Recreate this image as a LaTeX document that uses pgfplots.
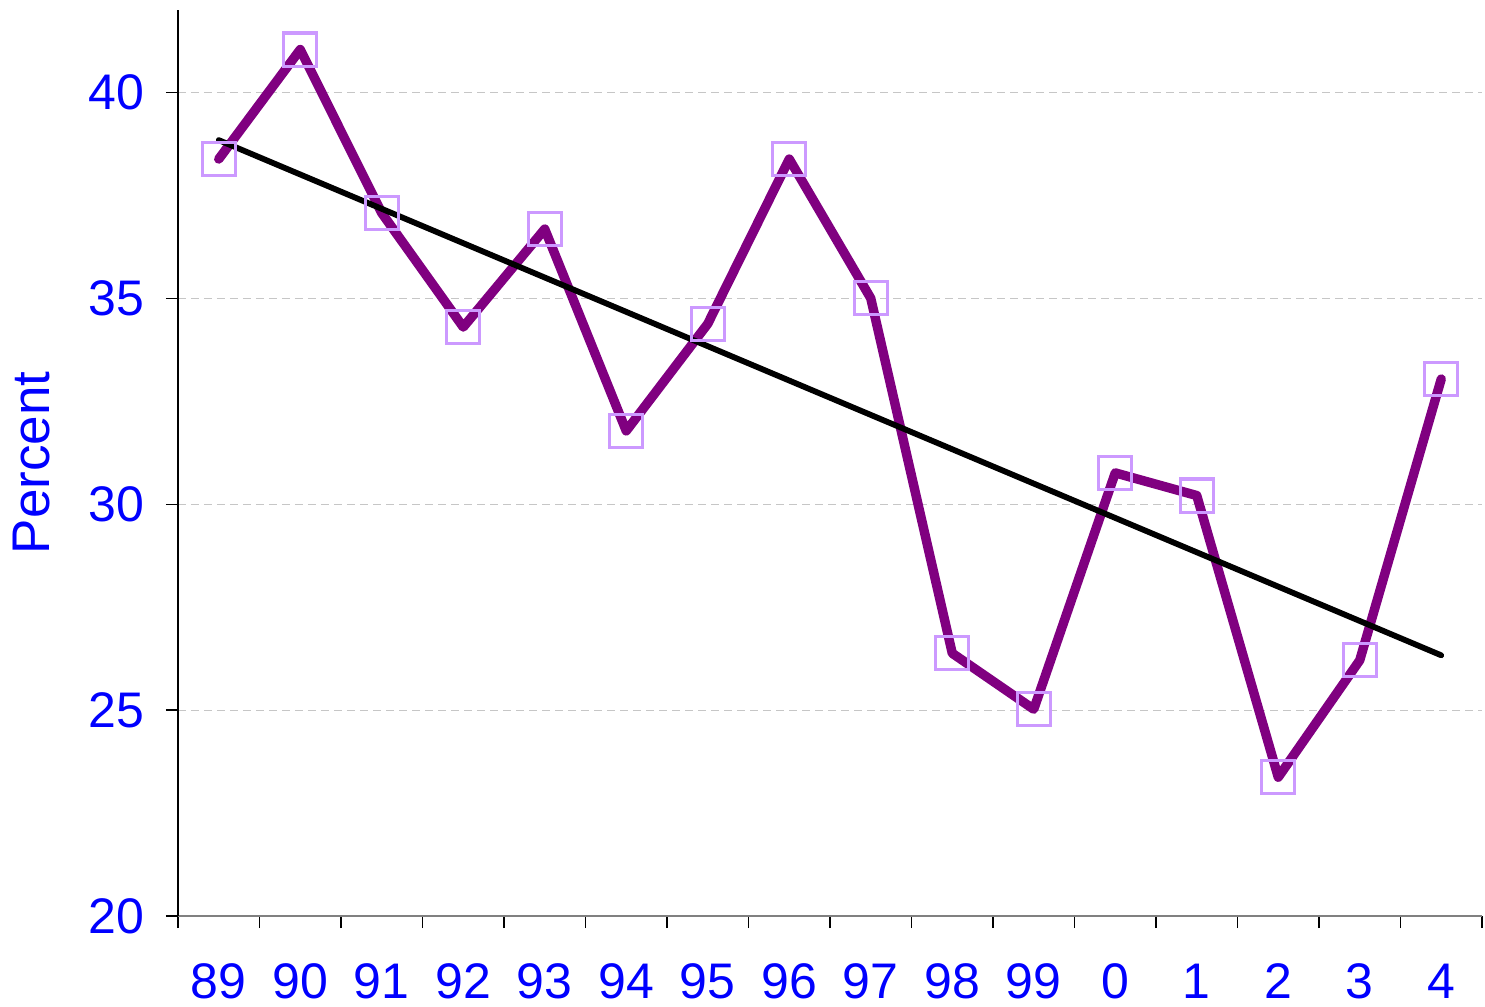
\documentclass[border=0pt]{standalone}
\usepackage{pgfplots}
\pgfplotsset{compat=1.18}
\usepackage{fontspec}
\setmainfont{Liberation Sans}
\definecolor{lineP}{HTML}{800080}
\definecolor{markP}{HTML}{CC99FF}
\definecolor{tblue}{HTML}{0000FF}
\pgfplotstableread{
x y
0 38.38
1 41.04
2 37.07
3 34.30
4 36.68
5 31.78
6 34.38
7 38.38
8 35.00
9 26.38
10 25.02
11 30.76
12 30.21
13 23.37
14 26.21
15 33.04
}\datatab
\begin{document}
\begin{tikzpicture}
\begin{axis}[
  scale only axis, width=652bp, height=453bp,
  xmin=-0.5, xmax=15.5, ymin=20, ymax=42,
  axis x line*=bottom, axis y line*=left,
  x axis line style={draw=gray, line width=0.9bp},
  y axis line style={draw=black, line width=0.6bp},
  xtick={0,...,15},
  xticklabels={89,90,91,92,93,94,95,96,97,98,99,0,1,2,3,4},
  every major x tick/.style={draw=none},
  minor xtick={-0.5,0.5,...,15.5},
  ytick={20,25,30,35,40},
  tick align=outside,
  major tick length=6bp, minor tick length=6bp,
  tick style={black, line width=0.6bp},
  ymajorgrids,
  grid style={gray!45, dash pattern=on 4bp off 2.5bp, line width=0.5bp},
  ticklabel style={font=\fontsize{25bp}{28bp}\selectfont, text=tblue},
  /pgf/number format/assume math mode=true,
  yticklabel style={xshift=-7.5bp},
  xticklabel style={yshift=-14.5bp},
  ylabel={Percent},
  ylabel shift={12.5bp},
  ylabel style={font=\fontsize{26.5bp}{30bp}\selectfont, text=tblue},
  clip=false,
]
\addplot[only marks, mark=square, mark size=8.3bp, mark options={draw=markP, line width=1.6bp, fill=none}] table[x=x,y=y]{\datatab};
\addplot[lineP, line width=4.7bp, line join=round, line cap=round, mark=none] table[x=x,y=y]{\datatab};
\addplot[black, line width=2.9bp, line cap=round, mark=none] coordinates {(0,38.84) (15,26.33)};
\end{axis}
\pgfresetboundingbox
\path ([shift={(-89bp,-45.5bp)}]current axis.south west) rectangle ([shift={(1.5bp,5bp)}]current axis.north east);
\end{tikzpicture}
\end{document}
